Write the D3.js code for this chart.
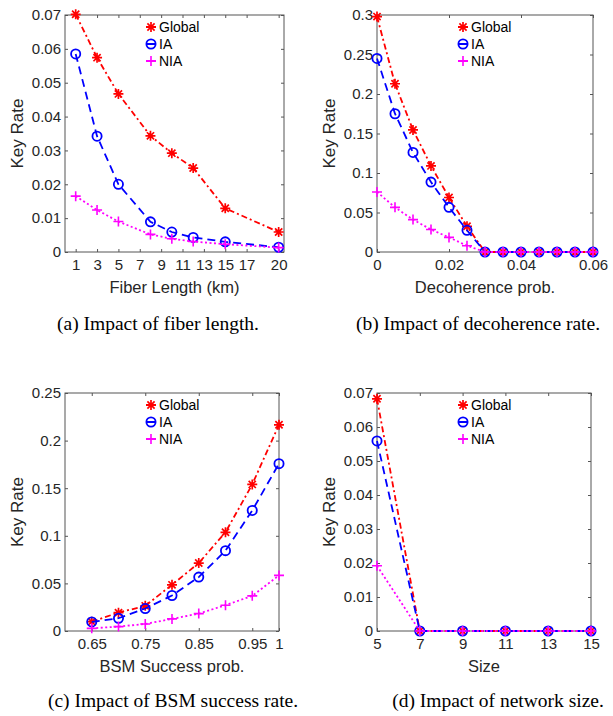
<!DOCTYPE html>
<html>
<head>
<meta charset="utf-8">
<title>key rate</title>
<style>
body { margin: 0; background: #fff; }
svg { display: block; }
</style>
</head>
<body>
<div id="chart"></div>
<script src="https://cdn.jsdelivr.net/npm/d3@7/dist/d3.min.js"></script>
<script>

// (a) fiber length
var fiberLen = [1, 3, 5, 8, 10, 12, 15, 20];
var fiberGlobal = [0.0702, 0.0574, 0.0467, 0.0343, 0.0292, 0.0248, 0.0129, 0.0059];
var fiberIA = [0.0585, 0.0342, 0.0200, 0.0089, 0.0059, 0.0043, 0.0030, 0.0014];
var fiberNIA = [0.0165, 0.0124, 0.0090, 0.0052, 0.0039, 0.0031, 0.0023, 0.0013];
var fiberXTicks = [1, 3, 5, 7, 9, 11, 13, 15, 17, 20];
var fiberYTicks = [0, 0.01, 0.02, 0.03, 0.04, 0.05, 0.06, 0.07];

// (b) decoherence
var decoProb = [0, 0.005, 0.01, 0.015, 0.02, 0.025, 0.03, 0.035, 0.04, 0.045, 0.05, 0.055, 0.06];
var decoGlobal = [0.298, 0.213, 0.1545, 0.109, 0.069, 0.0325, 0, 0, 0, 0, 0, 0, 0];
var decoIA = [0.245, 0.175, 0.126, 0.0885, 0.0565, 0.0275, 0, 0, 0, 0, 0, 0, 0];
var decoNIA = [0.076, 0.0565, 0.041, 0.0285, 0.0185, 0.008, 0, 0, 0, 0, 0, 0, 0];
var decoXTicks = [0, 0.02, 0.04, 0.06];
var decoYTicks = [0, 0.05, 0.1, 0.15, 0.2, 0.25, 0.3];

// (c) BSM success
var bsmProb = [0.65, 0.7, 0.75, 0.8, 0.85, 0.9, 0.95, 1];
var bsmGlobal = [0.0098, 0.0193, 0.0264, 0.0485, 0.0714, 0.1037, 0.154, 0.2166];
var bsmIA = [0.0095, 0.0134, 0.0236, 0.0373, 0.0566, 0.0844, 0.1266, 0.1758];
var bsmNIA = [0.0028, 0.0046, 0.0074, 0.0127, 0.0183, 0.0271, 0.0369, 0.0584];
var bsmXTicks = [0.65, 0.75, 0.85, 0.95, 1];
var bsmYTicks = [0, 0.05, 0.1, 0.15, 0.2, 0.25];

// (d) network size
var netSize = [5, 7, 9, 11, 13, 15];
var sizeGlobal = [0.0683, 0, 0, 0, 0, 0];
var sizeIA = [0.0559, 0, 0, 0, 0, 0];
var sizeNIA = [0.0192, 0, 0, 0, 0, 0];
var sizeXTicks = [5, 7, 9, 11, 13, 15];
var sizeYTicks = [0, 0.01, 0.02, 0.03, 0.04, 0.05, 0.06, 0.07];

var seriesNames = ['Global', 'IA', 'NIA'];
var seriesColors = ['#ff0000', '#0000ff', '#ff00ff'];
var seriesDash = ['6,3,2,3', '8,5', '2,2.5'];
var seriesMarker = ['star', 'circle', 'plus'];

var captions = ['(a) Impact of fiber length.', '(b) Impact of decoherence rate.',
                '(c) Impact of BSM success rate.', '(d) Impact of network size.'];

var font = '"Liberation Sans", Arial, Helvetica, sans-serif';
var textCol = '#262626';

var panels = [
    { left: 65, top: 15, right: 284, bottom: 252, xDomain: [0, 20.5], yDomain: [0, 0.07],
      xs: fiberLen, ys: [fiberGlobal, fiberIA, fiberNIA], xTicks: fiberXTicks, yTicks: fiberYTicks,
      xLabel: 'Fiber Length (km)', caption: captions[0], capX: 158, capY: 330 },
    { left: 377, top: 15, right: 593, bottom: 252, xDomain: [0, 0.06], yDomain: [0, 0.3],
      xs: decoProb, ys: [decoGlobal, decoIA, decoNIA], xTicks: decoXTicks, yTicks: decoYTicks,
      xLabel: 'Decoherence prob.', caption: captions[1], capX: 478, capY: 330 },
    { left: 65, top: 393, right: 279, bottom: 631, xDomain: [0.6, 1], yDomain: [0, 0.25],
      xs: bsmProb, ys: [bsmGlobal, bsmIA, bsmNIA], xTicks: bsmXTicks, yTicks: bsmYTicks,
      xLabel: 'BSM Success prob.', caption: captions[2], capX: 173, capY: 707 },
    { left: 377, top: 393, right: 591, bottom: 631, xDomain: [5, 15], yDomain: [0, 0.07],
      xs: netSize, ys: [sizeGlobal, sizeIA, sizeNIA], xTicks: sizeXTicks, yTicks: sizeYTicks,
      xLabel: 'Size', caption: captions[3], capX: 498, capY: 707 }
];

var svg = d3.select('#chart')
    .append('svg')
    .attr('width', 613)
    .attr('height', 716)
    .style('background', '#fff');

function fmt(d) {
    return d === 0 ? '0' : String(+d.toFixed(4));
}

function drawMarker(g, type, x, y, color) {
    var r = 5;
    if (type == 'star') {
        var p = 'M' + (x - r) + ',' + y + 'L' + (x + r) + ',' + y +
                'M' + x + ',' + (y - r) + 'L' + x + ',' + (y + r);
        var s = r * 0.72;
        p += 'M' + (x - s) + ',' + (y - s) + 'L' + (x + s) + ',' + (y + s) +
             'M' + (x - s) + ',' + (y + s) + 'L' + (x + s) + ',' + (y - s);
        g.append('path').attr('d', p).attr('stroke', color).attr('stroke-width', 1.7).attr('fill', 'none');
    } else if (type == 'circle') {
        g.append('circle').attr('cx', x).attr('cy', y).attr('r', 4.6)
            .attr('stroke', color).attr('stroke-width', 1.8).attr('fill', 'none');
    } else {
        var q = 'M' + (x - r) + ',' + y + 'L' + (x + r) + ',' + y +
                'M' + x + ',' + (y - r) + 'L' + x + ',' + (y + r);
        g.append('path').attr('d', q).attr('stroke', color).attr('stroke-width', 1.6).attr('fill', 'none');
    }
}

panels.forEach(function(p) {
    var g = svg.append('g');
    var x = d3.scaleLinear().domain(p.xDomain).range([p.left, p.right]);
    var y = d3.scaleLinear().domain(p.yDomain).range([p.bottom, p.top]);

    // 坐标轴 (ticks inside, box on)
    var bx = g.append('g').attr('transform', 'translate(0,' + p.bottom + ')')
        .call(d3.axisBottom(x).tickValues(p.xTicks).tickFormat(fmt).tickSizeInner(-3).tickSizeOuter(0).tickPadding(7));
    var tx = g.append('g').attr('transform', 'translate(0,' + p.top + ')')
        .call(d3.axisTop(x).tickValues(p.xTicks).tickFormat('').tickSizeInner(-3).tickSizeOuter(0));
    var ly = g.append('g').attr('transform', 'translate(' + p.left + ',0)')
        .call(d3.axisLeft(y).tickValues(p.yTicks).tickFormat(fmt).tickSizeInner(-3).tickSizeOuter(0).tickPadding(4));
    var ry = g.append('g').attr('transform', 'translate(' + p.right + ',0)')
        .call(d3.axisRight(y).tickValues(p.yTicks).tickFormat('').tickSizeInner(-3).tickSizeOuter(0));
    [bx, tx, ly, ry].forEach(function(a) {
        a.select('.domain').remove();
        a.selectAll('line').attr('stroke', '#555');
        a.selectAll('text').style('font-family', font).style('font-size', '15px').attr('fill', textCol);
    });

    g.append('rect')
        .attr('x', p.left).attr('y', p.top)
        .attr('width', p.right - p.left).attr('height', p.bottom - p.top)
        .attr('fill', 'none').attr('stroke', '#555').attr('stroke-width', 1);

    // 曲线
    var line = d3.line().x(function(d) { return x(d[0]); }).y(function(d) { return y(d[1]); });
    p.ys.forEach(function(vals, k) {
        var pts = p.xs.map(function(v, i) { return [v, vals[i]]; });
        g.append('path')
            .attr('d', line(pts))
            .attr('fill', 'none')
            .attr('stroke', seriesColors[k])
            .attr('stroke-width', 1.8)
            .attr('stroke-dasharray', seriesDash[k]);
        pts.forEach(function(d) {
            drawMarker(g, seriesMarker[k], x(d[0]), y(d[1]), seriesColors[k]);
        });
    });

    // 图例
    seriesNames.forEach(function(name, k) {
        var mx = p.left + 86, my = p.top + 12 + k * 17;
        g.append('line').attr('x1', mx - 5).attr('x2', mx + 5).attr('y1', my).attr('y2', my)
            .attr('stroke', seriesColors[k]).attr('stroke-width', 2);
        drawMarker(g, seriesMarker[k], mx, my, seriesColors[k]);
        g.append('text')
            .attr('x', mx + 8).attr('y', my)
            .attr('dy', '0.35em')
            .style('font-family', font).style('font-size', '14px')
            .attr('fill', '#000')
            .text(name);
    });

    // 轴标题
    g.append('text')
        .attr('x', (p.left + p.right) / 2).attr('y', p.bottom + 41)
        .attr('text-anchor', 'middle')
        .style('font-family', font).style('font-size', '16.5px')
        .attr('fill', textCol)
        .text(p.xLabel);
    g.append('text')
        .attr('transform', 'translate(' + (p.left - 42) + ',' + ((p.top + p.bottom) / 2) + ') rotate(-90)')
        .attr('text-anchor', 'middle')
        .style('font-family', font).style('font-size', '17px')
        .attr('fill', textCol)
        .text('Key Rate');

    // 子图标题
    g.append('text')
        .attr('x', p.capX).attr('y', p.capY)
        .attr('text-anchor', 'middle')
        .style('font-family', '"Liberation Serif", "Times New Roman", serif')
        .style('font-size', '19.5px')
        .attr('fill', '#000')
        .text(p.caption);
});
</script>
</body>
</html>
